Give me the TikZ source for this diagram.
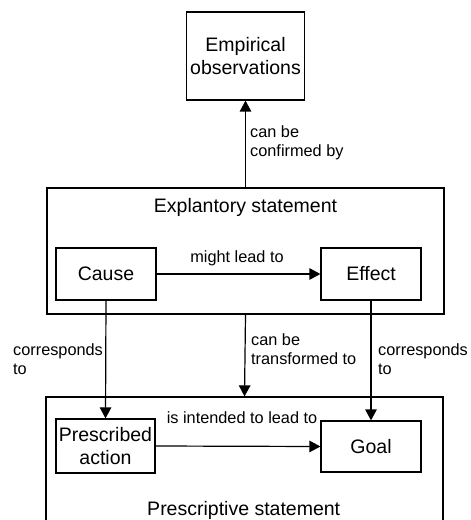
\documentclass[tikz,border=0pt]{standalone}
\usepackage{fontspec}
\setmainfont{Liberation Sans}
\usetikzlibrary{arrows.meta}
\begin{document}
\begin{tikzpicture}[x=1bp,y=-1bp,
  box/.style={draw, line width=1.2bp, inner sep=0pt, align=center, font=\fontsize{19.5bp}{23.5bp}\selectfont},
  ttl/.style={inner sep=0pt, anchor=base, font=\fontsize{19.5bp}{23.5bp}\selectfont},
  lbl/.style={inner sep=0pt, anchor=north west, align=left, font=\fontsize{16.3bp}{19.5bp}\selectfont},
  mlbl/.style={inner sep=0pt, anchor=base, font=\fontsize{16.3bp}{19.5bp}\selectfont},
  arr/.style={line width=1.2bp, -{Triangle[width=11.5bp,length=11bp]}}]
\useasboundingbox (0,0) rectangle (471,520);
\clip (0,0) rectangle (471,520);
% boxes
\node[box, minimum width=118bp, minimum height=88bp] (emp) at (245.5,56) {Empirical\\observations};
\node[box, minimum width=397bp, minimum height=126bp] (expl) at (245.5,251) {};
\node[ttl] (explt) at (245.5,212.3) {Explantory statement};
\node[box, minimum width=100bp, minimum height=52bp] (cause) at (106,274) {Cause};
\node[box, minimum width=100bp, minimum height=52bp] (effect) at (371,274) {Effect};
\node[box, minimum width=397bp, minimum height=143bp] (presc) at (244.5,468.5) {};
\node[ttl] (presct) at (243.7,515) {Prescriptive statement};
\node[box, minimum width=99bp, minimum height=54bp] (action) at (105.5,446) {Prescribed\\action};
\node[box, minimum width=100bp, minimum height=51bp] (goal) at (371,446.5) {Goal};
% connectors
\draw[arr] (expl.north) -- (emp.south);
\draw[arr] (cause.east) -- (effect.west);
\draw[arr] (cause.south) -- (action.north);
\draw[arr] (expl.south) -- (presc.north);
\draw[arr] (effect.south) -- (goal.north);
\draw[arr] (action.east) -- (goal.west);
% labels
\node[lbl] (l1) at (250,125) {can be\\confirmed by};
\node[mlbl] (l2) at (237,262) {might lead to};
\node[lbl] (l3) at (13,343.3) {corresponds\\to};
\node[lbl] (l4) at (251,333.3) {can be\\transformed to};
\node[lbl] (l5) at (378,343.3) {corresponds\\to};
\node[mlbl] (l6) at (242,423) {is intended to lead to};
\end{tikzpicture}
\end{document}
